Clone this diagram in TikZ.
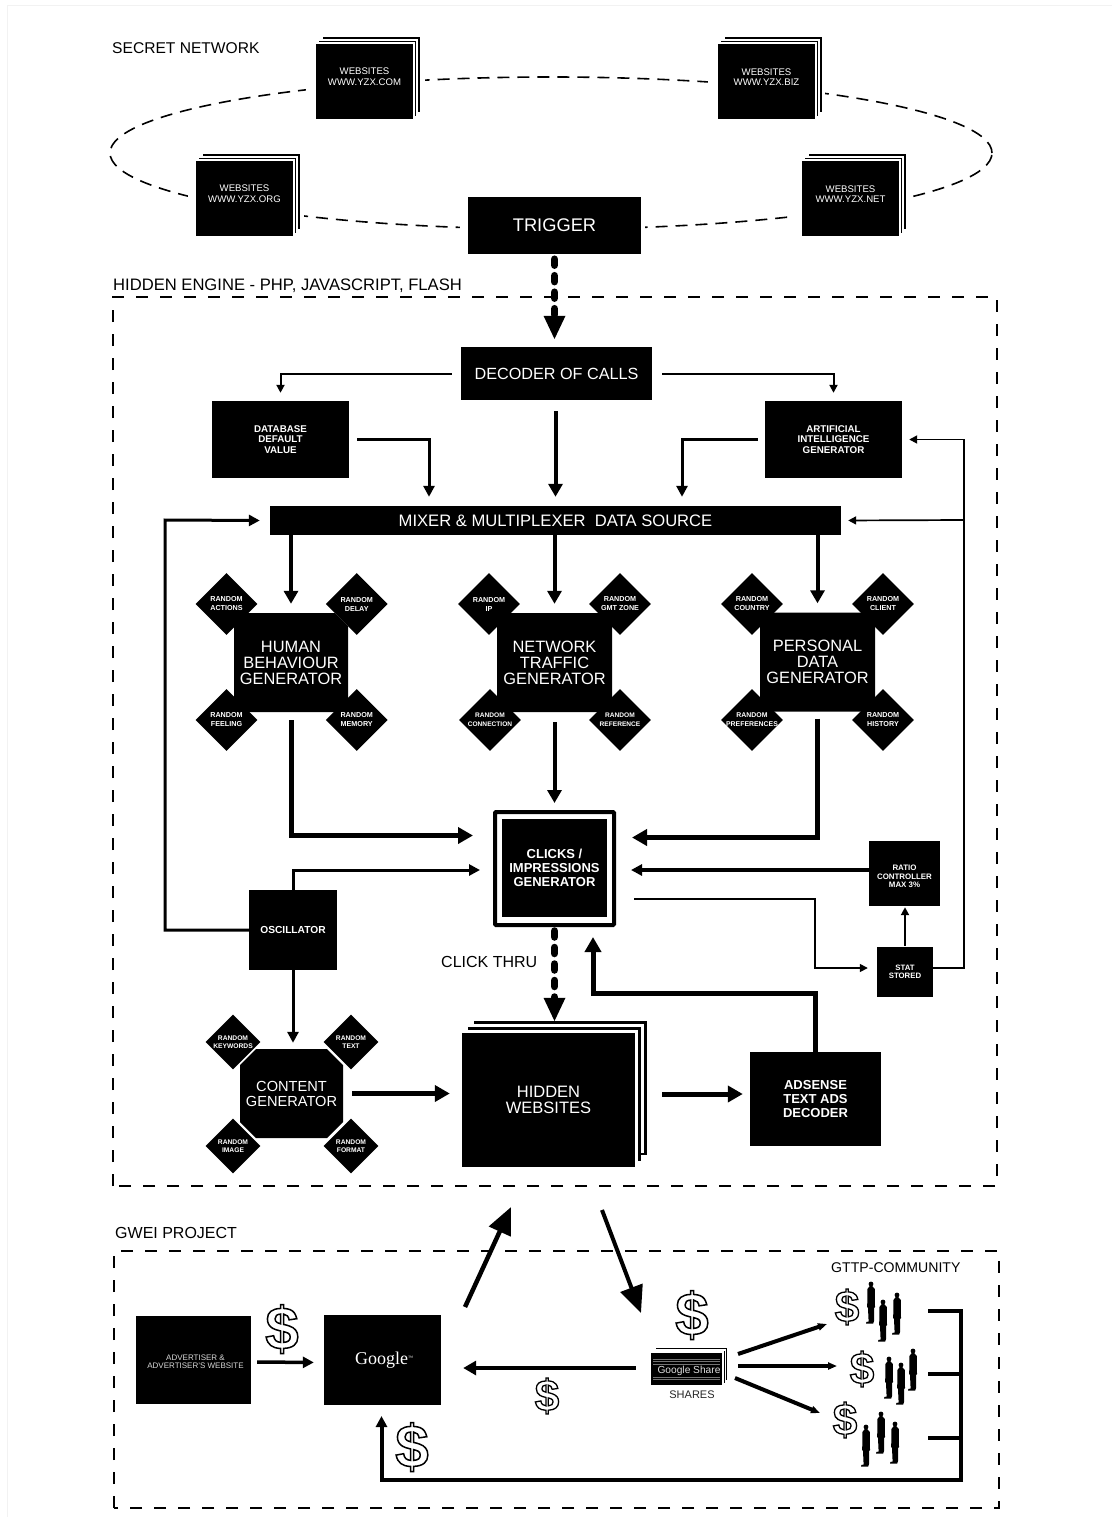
\documentclass[tikz,border=0pt]{standalone}
\usepackage{fontspec}
\setmainfont{Liberation Sans}
\newfontfamily\serifgoogle{Liberation Serif}
\usetikzlibrary{arrows.meta,shapes.geometric,calc}
\newcommand{\fs}[1]{\fontsize{#1}{#1}\selectfont}
\newcommand{\fsl}[2]{\fontsize{#1}{#2}\selectfont}
\newcommand{\outlinedollar}[2]{\bfseries\fontsize{#1}{#1}\selectfont\special{pdf:code 1 Tr #2 w}\$\special{pdf:code 0 Tr 0 w}}
% stacked sheets: #1 name, #2 x1, #3 y1, #4 x2, #5 y2, #6 offset, #7 rule, #8 text style, #9 text
\newcommand{\stackbox}[9]{%
  \fill[black] ({#2+2*#6},{#3-2*#6}) rectangle ({#4+2*#6},{#5-2*#6});
  \fill[white] ({#2+2*#6-#7},{#3-2*#6+#7}) rectangle ({#4+2*#6-#7},{#5-2*#6-#7+1});
  \fill[black] ({#2+#6},{#3-#6}) rectangle ({#4+#6},{#5-#6});
  \fill[white] ({#2+#6-#7},{#3-#6+#7}) rectangle ({#4+#6-#7},{#5-#6+#7});
  \node[blackbox,minimum width={(#4-#2)*1pt},minimum height={(#5-#3)*1pt},#8] (#1) at ({(#2+#4)/2},{(#3+#5)/2}) {#9};
}
% octagon: #1 name, #2 cx, #3 cy, #4 w, #5 h, #6 chamfer, #7 font, #8 text
\newcommand{\octa}[8]{%
  \fill[black] ({#2-#4/2+#6},{#3-#5/2}) -- ({#2+#4/2-#6},{#3-#5/2}) -- ({#2+#4/2},{#3-#5/2+#6}) -- ({#2+#4/2},{#3+#5/2-#6}) -- ({#2+#4/2-#6},{#3+#5/2}) -- ({#2-#4/2+#6},{#3+#5/2}) -- ({#2-#4/2},{#3+#5/2-#6}) -- ({#2-#4/2},{#3-#5/2+#6}) -- cycle;
  \node[octtext,minimum width={#4*1pt},minimum height={#5*1pt},font=#7] (#1) at (#2,#3) {#8};
}
% diamond: #1 name, #2 x, #3 y, #4 size, #5 font, #6,#7 lines
\newcommand{\diam}[7]{%
  \node[diamondbox,minimum width={#4*1pt},minimum height={#4*1pt},font=#5] (#1) at (#2,#3) {\makebox[20pt][c]{#6}\\\makebox[20pt][c]{#7}};
}
\tikzset{
  x=1pt,y=-1pt,
  blackbox/.style={fill=black,text=white,inner sep=0pt,align=center,draw=none,font=\fs{10}},
  diamondbox/.style={diamond,fill=black,text=white,inner sep=0pt,align=center},
  octtext/.style={rectangle,text=white,inner sep=0pt,align=center},
  lbl/.style={anchor=west,inner sep=0pt,text=black},
  dashframe/.style={draw=black,line width=2pt,dash pattern=on 12pt off 12pt},
  arrowxl/.style={draw=black,line width=5pt,-{Triangle[length=15pt,width=16pt]}},
  arrowl/.style={draw=black,line width=4pt,-{Triangle[length=13pt,width=14pt]}},
  arrowm/.style={draw=black,line width=3pt,-{Triangle[length=11pt,width=11pt]}},
  arrowt/.style={draw=black,line width=1.7pt,-{Triangle[length=8pt,width=8pt]}},
  arrowp/.style={draw=black,line width=4pt,-{Triangle[length=9pt,width=7pt]}},
  arrowbig/.style={draw=black,line width=4.5pt,-{Triangle[length=27pt,width=23pt]}},
  dotflow/.style={draw=black,line width=7.5pt,line cap=round,dash pattern=on 6pt off 10.5pt,-{Triangle[length=24pt,width=20pt]}},
  plainline/.style={draw=black,line width=4pt},
  dollar/.style={inner sep=0pt,text=black},
  person/.pic={
    \fill[black] (0,0) circle (2.4);
    \fill[black] (-1.2,2) -- (1.2,2) -- (3.8,5) -- (4,23) -- (3.2,24) -- (3,37) -- (2.2,39.5) -- (-5,39.5) -- (-4.6,38) -- (-2.4,37.5) -- (-3,24) -- (-3.8,23) -- (-3.6,5) -- cycle;
  },
}
\begin{document}
\begin{tikzpicture}
\useasboundingbox (0,0) rectangle (1112,1517);
\fill[white] (0,0) rectangle (1112,1517);
\draw[black!5,line width=1pt] (7,1517) -- (7,6) -- (1112,6);

% ---- secret network
\node[lbl,font=\fs{15.6}] (secretlabel) at (112,48.5) {SECRET NETWORK};
\node[draw=black,line width=1.6pt,dash pattern=on 12pt off 8pt,ellipse,minimum width=882pt,minimum height=152pt,inner sep=0pt] (ring) at (551,153) {};
\fill[white] (306,30) rectangle (425,130);
\fill[white] (708,30) rectangle (825,130);
\fill[white] (188,148) rectangle (304,245);
\fill[white] (792,148) rectangle (906,245);
\fill[white] (460,190) rectangle (645,262);
\stackbox{wcom}{316}{44}{413}{119}{3.3}{1.5}{font=\fsl{9.6}{11}}{\raisebox{9pt}{\shortstack{WEBSITES\\[1pt]WWW.YZX.COM}}}
\stackbox{wbiz}{718}{44}{815}{119}{3.3}{1.5}{font=\fsl{9.6}{11}}{\raisebox{9pt}{\shortstack{WEBSITES\\[1pt]WWW.YZX.BIZ}}}
\stackbox{worg}{196}{161}{293}{236}{3.3}{1.5}{font=\fsl{9.6}{11}}{\raisebox{9pt}{\shortstack{WEBSITES\\[1pt]WWW.YZX.ORG}}}
\stackbox{wnet}{802}{161}{899}{236}{3.3}{1.5}{font=\fsl{9.6}{11}}{\raisebox{9pt}{\shortstack{WEBSITES\\[1pt]WWW.YZX.NET}}}
\node[blackbox,minimum width=173pt,minimum height=57pt,font=\fs{18.3}] (trigger) at (554.5,225.5) {TRIGGER};

% ---- hidden engine
\node[lbl,font=\fs{16.6}] (hiddenlabel) at (113,286) {HIDDEN ENGINE - PHP, JAVASCRIPT, FLASH};
\draw[dashframe] (113,1186) -- (113,297) -- (997,297) -- (997,1186) -- cycle;
\node[blackbox,minimum width=191pt,minimum height=53pt,font=\fs{16.2}] (decoder) at (556.5,373.5) {DECODER OF CALLS};
\node[blackbox,minimum width=137pt,minimum height=77pt,font=\bfseries\fsl{9.8}{10.6}] (db) at (280.5,439.5) {DATABASE\\DEFAULT\\VALUE};
\node[blackbox,minimum width=137pt,minimum height=77pt,font=\bfseries\fsl{9.8}{10.6}] (ai) at (833.5,439.5) {ARTIFICIAL\\INTELLIGENCE\\GENERATOR};
\node[blackbox,minimum width=571pt,minimum height=29pt,font=\fs{16.6}] (mixer) at (555.5,520.5) {MIXER \& MULTIPLEXER\ \ DATA SOURCE};

% generators
\octa{human}{291}{662.5}{114}{99}{13}{\fsl{16.4}{16}}{HUMAN\\BEHAVIOUR\\GENERATOR}
\octa{network}{554.5}{662.5}{115}{99}{13}{\fsl{16.4}{16}}{NETWORK\\TRAFFIC\\GENERATOR}
\octa{personal}{817.5}{662}{115}{99}{13}{\fsl{16.4}{16}}{PERSONAL\\DATA\\GENERATOR}
\def\dfont{\bfseries\fsl{7.2}{9}}
\diam{d1}{226.5}{604}{62}{\dfont}{RANDOM}{ACTIONS}
\diam{d2}{356.7}{604}{62}{\dfont}{RANDOM}{DELAY}
\diam{d3}{226.5}{720}{62}{\dfont}{RANDOM}{FEELING}
\diam{d4}{356.7}{720}{62}{\dfont}{RANDOM}{MEMORY}
\diam{d5}{489}{604}{62}{\dfont}{RANDOM}{IP}
\diam{d6}{620}{604}{62}{\dfont}{RANDOM}{GMT ZONE}
\diam{d7}{490}{720}{62}{\bfseries\fsl{6.6}{9}}{RANDOM}{CONNECTION}
\diam{d8}{620}{720}{62}{\bfseries\fsl{6.6}{9}}{RANDOM}{REFERENCE}
\diam{d9}{752}{604}{62}{\dfont}{RANDOM}{COUNTRY}
\diam{d10}{883}{604}{62}{\dfont}{RANDOM}{CLIENT}
\diam{d11}{752}{720}{62}{\bfseries\fsl{6.9}{9}}{RANDOM}{PREFERENCES}
\diam{d12}{883}{720}{62}{\dfont}{RANDOM}{HISTORY}

% clicks generator
\node[draw=black,line width=4pt,fill=white,rounded corners=1pt,minimum width=119pt,minimum height=113pt,inner sep=0pt] (frame) at (554.5,868.5) {};
\node[blackbox,minimum width=105pt,minimum height=98pt,font=\bfseries\fsl{13}{14}] (clicks) at (554.5,868) {CLICKS /\\IMPRESSIONS\\GENERATOR};
\node[blackbox,minimum width=88pt,minimum height=80pt,font=\bfseries\fs{10.2}] (osc) at (293,930) {OSCILLATOR};
\node[blackbox,minimum width=71pt,minimum height=65pt] (ratio) at (904.5,873.5) {};
\node[inner sep=0pt,text=white,align=center,font=\bfseries\fsl{7.9}{8.7}] (ratiotext) at (904.5,876.5) {RATIO\\CONTROLLER\\MAX 3\%};
\node[blackbox,minimum width=56pt,minimum height=50pt,font=\bfseries\fsl{7.8}{8.5}] (stat) at (905,972) {STAT\\STORED};
\node[lbl,font=\fs{16}] (thru) at (441,962) {CLICK THRU};

% content generator
\octa{content}{291.5}{1093.5}{103}{89}{16}{\fsl{14.6}{15}}{CONTENT\\GENERATOR}
\def\cfont{\bfseries\fsl{6.7}{8.4}}
\diam{c1}{233}{1042}{55}{\cfont}{RANDOM}{KEYWORDS}
\diam{c2}{351}{1042}{55}{\cfont}{RANDOM}{TEXT}
\diam{c3}{233}{1146}{55}{\cfont}{RANDOM}{IMAGE}
\diam{c4}{351}{1146}{55}{\cfont}{RANDOM}{FORMAT}

\stackbox{hidweb}{462}{1033}{635}{1167}{6}{3}{font=\fsl{16.5}{16}}{HIDDEN\\WEBSITES}
\node[blackbox,minimum width=131pt,minimum height=94pt,font=\bfseries\fsl{13}{14}] (adsense) at (815.5,1099) {ADSENSE\\TEXT ADS\\DECODER};

% ---- connectors of the engine
\draw[dotflow,shorten <=5pt,shorten >=7pt] (trigger.south) -- (decoder.north -| trigger.south);
\draw[arrowt,line width=2pt,shorten <=9pt,shorten >=8pt] (decoder.west) -| (db.north);
\draw[arrowt,line width=2pt,shorten <=10pt,shorten >=8pt] (decoder.east) -| (ai.north);
\draw[arrowl,shorten <=11pt,shorten >=9pt] (decoder.south -| mixer.north) -- (mixer.north);
\draw[arrowm,shorten <=8pt,shorten >=9pt] (db.east) -| ([xshift=-126.5pt]mixer.north);
\draw[arrowm,shorten <=7pt,shorten >=9pt] (ai.west) -| ([xshift=126.5pt]mixer.north);
\draw[arrowl,shorten >=9pt] (human.north |- mixer.south) -- (human.north);
\draw[arrowl,shorten >=9pt] (network.north |- mixer.south) -- (network.north);
\draw[arrowl,shorten >=9pt] (personal.north |- mixer.south) -- (personal.north);
\draw[arrowxl,shorten <=8pt,shorten >=20pt] (human.south) |- ([yshift=33pt]frame.west);
\draw[arrowl,shorten <=10pt,shorten >=7pt] (network.south) -- (frame.north);
\draw[arrowxl,shorten <=7pt,shorten >=16pt] (personal.south) |- ([yshift=31pt]frame.east);
\draw[arrowm,shorten >=13pt] (osc.north) |- ([yshift=-1.5pt]frame.west);
\draw[arrowm] (osc.west) -| (165,520) -- ([xshift=-10pt]mixer.west);
\draw[arrowm,shorten >=6pt] (osc.south) -- (osc.south |- content.north);
\draw[arrowm,line width=3.5pt,shorten >=15pt] (ratio.west |- 0,870) -- (frame.east |- 0,870);
\draw[arrowt,line width=1.5pt,shorten >=9pt] (634,899) -| (815,968) -- (stat.west |- 0,968);
\draw[arrowt,line width=2pt,shorten <=1pt,shorten >=1pt] (stat.north) -- (ratio.south -| stat.north);
\draw[arrowt,shorten >=7pt] (stat.east |- 0,968) -| (964,520) -- (mixer.east);
\draw[arrowt,shorten >=7pt] (964,520) |- (ai.east);
\draw[dotflow,shorten <=4pt,shorten >=11pt] (frame.south) -- (hidweb.north -| frame.south);
\draw[arrowxl,shorten <=9pt,shorten >=12pt] (content.east) -- (hidweb.west |- content.east);
\draw[arrowxl,shorten <=15pt,shorten >=7pt] ([xshift=12pt]hidweb.east |- adsense.west) ++(0,-5) -- (adsense.west |- 0,1094);
\draw[arrowxl,shorten >=10pt] (adsense.north) |- (593,993) -- (frame.south -| 593,0);

% ---- GWEI project
\node[lbl,font=\fs{16}] (gweilabel) at (115,1232.5) {GWEI PROJECT};
\draw[dashframe] (114,1508) -- (114,1251) -- (999,1251) -- (999,1508) -- cycle;
\node[lbl,font=\fs{14.1}] (gttp) at (831,1268) {GTTP-COMMUNITY};
\node[blackbox,minimum width=115pt,minimum height=88pt] (adv) at (193.5,1360) {};
\node[inner sep=0pt,align=center,text=black!15,font=\fsl{8}{8}] (advtext) at (195.5,1361.5) {ADVERTISER \&\\ADVERTISER'S WEBSITE};
\node[blackbox,minimum width=117pt,minimum height=90pt] (google) at (382.5,1360) {};
\node[inner sep=0pt,text=white,font=\serifgoogle\fs{18}] (googletext) at (384,1360.5) {Google\raisebox{5pt}{\fs{5}™}};

\stackbox{shares}{651}{1353}{722}{1385}{2.5}{.7}{}{}
\foreach \yy in {1359,1361.5,1364,1377,1379.5} \draw[black!55,line width=.6pt] (653,\yy) -- (720,\yy);
\node[inner sep=0pt,text=black!12,font=\fs{10.2}] (sharetext) at (689,1371) {Google Share};
\node[inner sep=0pt,text=black!85,font=\fs{11}] (shareslabel) at (692,1395) {SHARES};

\coordinate (hidtipa) at (511,1207);
\coordinate (hidtipb) at (602,1210);
\coordinate (sharetip) at (641,1313);
\coordinate (g1) at (827,1324);
\coordinate (g2) at (837,1366);
\coordinate (g3) at (820,1413);
\coordinate (br1) at (928,1311);
\coordinate (br2) at (928,1374);
\coordinate (br3) at (928,1438);
\coordinate (brk) at (961,1311);
\coordinate (brb) at (961,1480);
\coordinate (gtip) at (381.5,1416);

\draw[arrowbig] (465,1307) -- (hidtipa);
\draw[arrowbig,line width=4pt] (hidtipb) -- (sharetip);
\draw[arrowm,line width=3.5pt,shorten <=6pt,shorten >=10pt] (adv.east) ++(0,2) -- (google.west |- 0,1362.5);
\draw[arrowl,shorten <=15pt,shorten >=22pt] (shares.west |- 0,1368) -- (google.east |- 0,1368);
\draw[arrowp] (738,1354) -- (g1);
\draw[arrowp,line width=3.5pt] (738,1366) -- (g2);
\draw[arrowp] (735,1378) -- (g3);
\draw[plainline,line join=miter] (br1) -- (brk) -- (brb);
\draw[plainline] (br2) -- (br2 -| brk);
\draw[plainline] (br3) -- (br3 -| brk);
\draw[arrowl,-{Triangle[length=11pt,width=11pt]},shorten <=-2pt] (brb) -| (gtip);

% dollars
\node[dollar] (dol1) at (282,1329) {\outlinedollar{60}{1.5}};
\node[dollar] (dol2) at (547,1396) {\outlinedollar{44}{1.3}};
\node[dollar] (dol3) at (412,1447) {\outlinedollar{60}{1.5}};
\node[dollar] (dol4) at (692,1315) {\outlinedollar{60}{1.5}};
\node[dollar] (dol5) at (847,1307) {\outlinedollar{44}{1.3}};
\node[dollar] (dol6) at (862,1369) {\outlinedollar{44}{1.3}};
\node[dollar] (dol7) at (845,1420) {\outlinedollar{44}{1.3}};

% people
\foreach \px/\py in {871/1284,883/1302,897/1295,889/1359,901/1365,913/1351,866/1427,881/1414,895/1424}
  \pic at (\px,\py) {person};
\end{tikzpicture}
\end{document}
